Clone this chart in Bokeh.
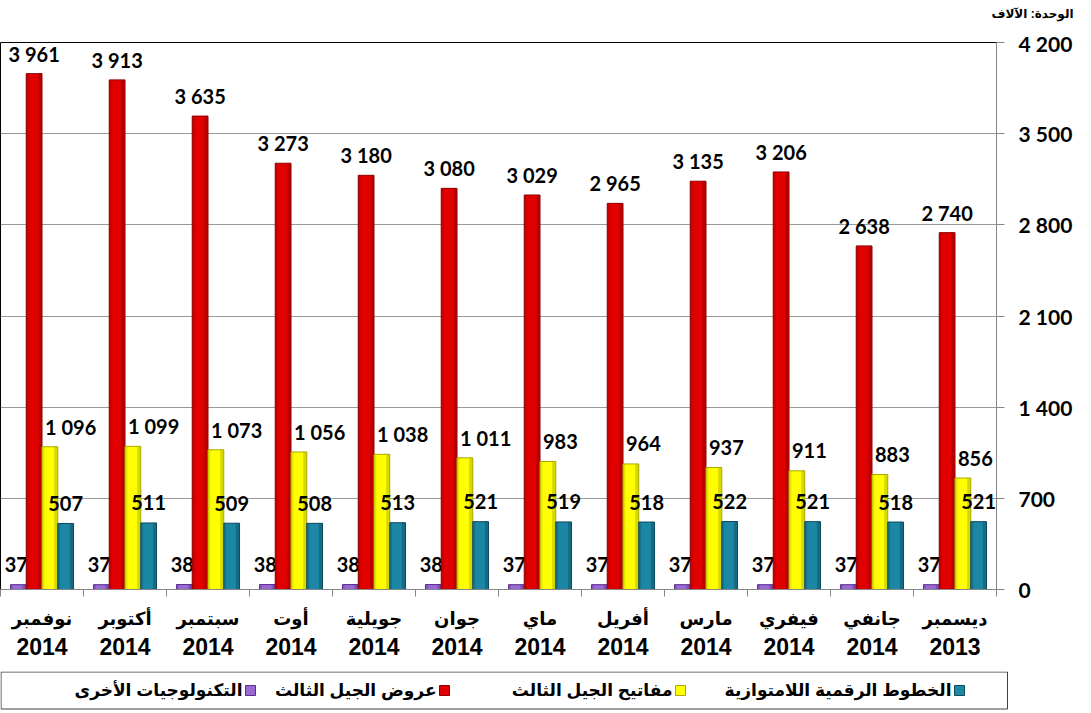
from bokeh.plotting import figure
from bokeh.models import ColumnDataSource, FixedTicker, Range1d, LinearAxis
from bokeh.transform import dodge
from bokeh.core.properties import value
from bokeh.layouts import column
from bokeh.embed import file_html
from bokeh.resources import INLINE

# ---------------- data ----------------
months = ["نوفمبر", "أكتوبر", "سبتمبر", "أوت", "جويلية", "جوان",
          "ماي", "أفريل", "مارس", "فيفري", "جانفي", "ديسمبر"]
years = ["2014", "2014", "2014", "2014", "2014", "2014",
         "2014", "2014", "2014", "2014", "2014", "2013"]
other_tech = [37, 37, 38, 38, 38, 38, 37, 37, 37, 37, 37, 37]
offers_3g = [3961, 3913, 3635, 3273, 3180, 3080, 3029, 2965, 3135, 3206, 2638, 2740]
keys_3g = [1096, 1099, 1073, 1056, 1038, 1011, 983, 964, 937, 911, 883, 856]
adsl_lines = [507, 511, 509, 508, 513, 521, 519, 518, 522, 521, 518, 521]
series_names = ["التكنولوجيات الأخرى", "عروض الجيل الثالث",
                "مفاتيح الجيل الثالث", "الخطوط الرقمية اللامتوازية"]
y_ticks = [0, 700, 1400, 2100, 2800, 3500, 4200]
unit_label = "الوحدة: الآلاف"


def fmt(v):
    return f"{v:,}".replace(",", " ")


idx = list(range(len(months)))
src = ColumnDataSource(dict(
    x=idx,
    other=other_tech, offers=offers_3g, keys=keys_3g, adsl=adsl_lines,
    other_l=[fmt(v) for v in other_tech], offers_l=[fmt(v) for v in offers_3g],
    keys_l=[fmt(v) for v in keys_3g], adsl_l=[fmt(v) for v in adsl_lines],
))

ARABIC_FONT = "Liberation Sans, DejaVu Sans"
NUM_FONT = "Lato"

# ---------------- header with unit label ----------------
head = figure(frame_width=1075, frame_height=30,
              x_range=Range1d(0, 1075), y_range=Range1d(0, 30),
              output_backend="svg", toolbar_location=None, min_border=0,
              x_axis_location=None, y_axis_location=None)
head.outline_line_color = None
head.grid.visible = False
head.text(x=[1073], y=[17], text=[unit_label], text_font=value(ARABIC_FONT),
          text_font_style="bold", text_font_size="12px", text_color="black",
          text_align="right", text_baseline="middle")

# ---------------- main chart ----------------
p = figure(frame_width=996, frame_height=547,
           x_range=Range1d(-0.5, len(months) - 0.5), y_range=Range1d(0, 4200),
           y_axis_location="right", output_backend="svg", toolbar_location=None,
           min_border_left=0, min_border_top=12, min_border_bottom=82, min_border_right=79)

W = 0.19
series = [
    ("other", -0.285, "#9A6AD4", "#5A2C90", "center", -2),
    ("offers", -0.095, "#E00000", "#8E0000", "center", 0),
    ("keys", 0.095, "#FFFF00", "#A8A800", "left", 3),
    ("adsl", 0.285, "#1B87A4", "#0D4A5C", "center", 0),
]

for field, off, col, dark, align, xoff in series:
    p.vbar(x=dodge("x", off), top=field, width=W, bottom=0, source=src,
           fill_color=col, line_color=dark, line_width=1)
    # cylinder-like shading strips
    p.vbar(x=dodge("x", off + W * 0.38), top=field, width=W * 0.22, bottom=0, source=src,
           fill_color=dark, fill_alpha=0.45, line_color=None)
    p.vbar(x=dodge("x", off - W * 0.42), top=field, width=W * 0.14, bottom=0, source=src,
           fill_color=dark, fill_alpha=0.30, line_color=None)
    tx = dodge("x", off - W / 2) if align == "left" else dodge("x", off)
    p.text(x=tx, y=field, text=field + "_l", source=src,
           text_font=value(NUM_FONT), text_font_style="bold", text_font_size="20px",
           text_color="black", text_align=align, text_baseline="middle",
           x_offset=xoff, y_offset=-20)

p.outline_line_color = "black"
p.outline_line_width = 1
p.xgrid.visible = False
p.ygrid.grid_line_color = "#9A9A9A"
p.ygrid.grid_line_width = 1

# x axis: month names
xa = p.xaxis[0]
xa.ticker = FixedTicker(ticks=idx, minor_ticks=[i - 0.5 for i in range(len(months) + 1)])
xa.major_label_overrides = {i: m for i, m in enumerate(months)}
xa.major_tick_line_color = None
xa.major_tick_out = 7
xa.major_tick_in = 0
xa.minor_tick_line_color = "#868686"
xa.minor_tick_out = 7
xa.minor_tick_in = 0
xa.axis_line_color = "#868686"
xa.major_label_text_font = ARABIC_FONT
xa.major_label_text_font_style = "bold"
xa.major_label_text_font_size = "18px"
xa.major_label_text_color = "black"
xa.major_label_standoff = 12

# second row: years
ya = LinearAxis(ticker=FixedTicker(ticks=idx),
                major_label_overrides={i: y for i, y in enumerate(years)},
                axis_line_color=None, major_tick_line_color=None,
                minor_tick_line_color=None, major_tick_out=0, major_tick_in=0,
                major_label_standoff=6,
                major_label_text_font=ARABIC_FONT, major_label_text_font_style="bold",
                major_label_text_font_size="23px", major_label_text_color="black")
p.add_layout(ya, "below")

# y axis (right)
yx = p.yaxis[0]
yx.ticker = FixedTicker(ticks=y_ticks)
yx.major_label_overrides = {t: fmt(t) for t in y_ticks}
yx.major_tick_out = 8
yx.major_tick_in = 0
yx.minor_tick_line_color = None
yx.major_tick_line_color = "#868686"
yx.axis_line_color = "#868686"
yx.major_label_text_font = NUM_FONT
yx.major_label_text_font_style = "bold"
yx.major_label_text_font_size = "21px"
yx.major_label_text_color = "black"
yx.major_label_standoff = 14

# ---------------- legend (right-to-left) ----------------
leg = figure(frame_width=1075, frame_height=39,
             x_range=Range1d(0, 1075), y_range=Range1d(0, 39),
             output_backend="svg", toolbar_location=None, min_border=0,
             x_axis_location=None, y_axis_location=None)
leg.outline_line_color = None
leg.grid.visible = False

leg.quad(left=0.5, right=1007, bottom=1.5, top=38.5, fill_color=None, line_color="#404040")
sq_x = [250, 444, 680, 959]
txt_x = [242, 436, 672, 951]
leg_fill = ["#9A6AD4", "#E00000", "#FFFF00", "#1B87A4"]
leg_line = ["#5A2C90", "#8E0000", "#A8A800", "#0D4A5C"]
leg.rect(x=sq_x, y=[20] * 4, width=10, height=10, fill_color=leg_fill, line_color=leg_line)
leg.text(x=txt_x, y=[20] * 4, text=series_names, text_font=value(ARABIC_FONT),
         text_font_style="bold", text_font_size="17px", text_color="black",
         text_align="right", text_baseline="middle")

layout = column(head, p, leg, spacing=0)
open("out.html", "w").write(file_html(layout, INLINE))
